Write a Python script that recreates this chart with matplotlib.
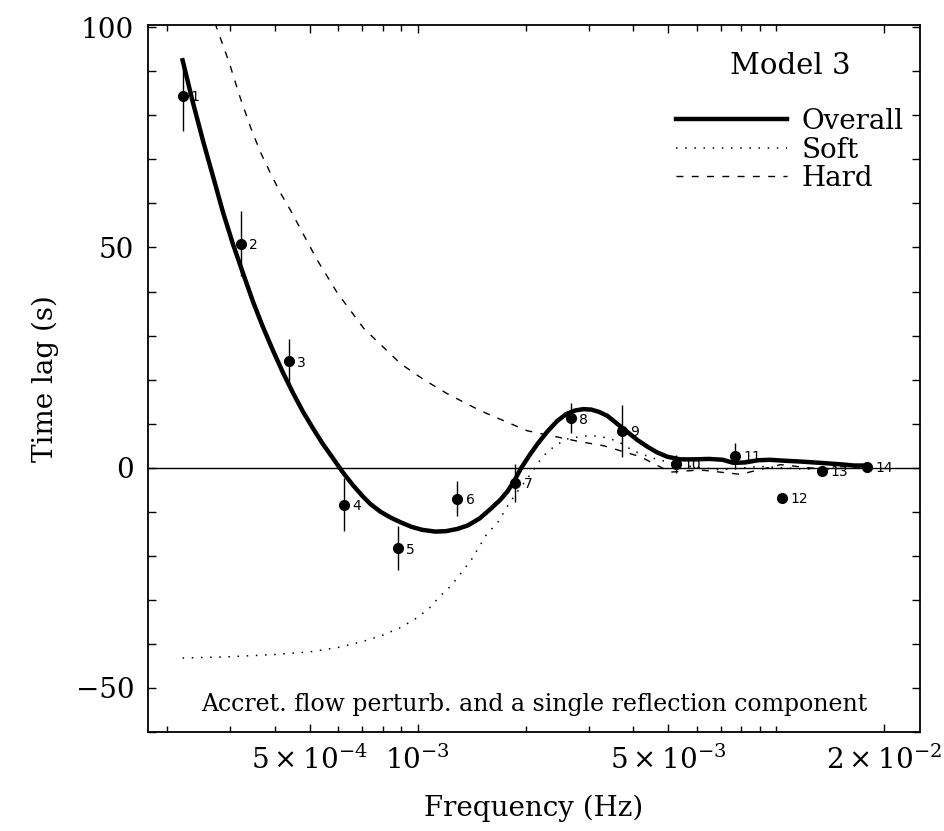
import numpy as np
import matplotlib.pyplot as plt
from matplotlib.ticker import FixedLocator, FixedFormatter, NullFormatter

plt.rcParams['font.family'] = 'DejaVu Serif'
plt.rcParams['mathtext.fontset'] = 'dejavuserif'

# measured lag points (Hz, s)
freq = [2.21e-4, 3.21e-4, 4.37e-4, 6.22e-4, 8.8e-4, 1.29e-3, 1.87e-3,
        2.67e-3, 3.72e-3, 5.24e-3, 7.69e-3, 1.04e-2, 1.34e-2, 1.79e-2]
lag = [84.4, 50.9, 24.2, -8.4, -18.3, -7.0, -3.4,
       11.3, 8.4, 0.9, 2.7, -6.8, -0.7, 0.2]
lag_err = [8.0, 7.3, 5.0, 6.0, 5.0, 4.0, 4.3,
           3.5, 5.9, 2.0, 3.0, 0.0, 0.5, 0.5]
point_ids = [str(i) for i in range(1, 15)]

# model curves
f_all = [2.21e-4, 2.36e-4, 2.52e-4, 2.69e-4, 2.86e-4, 3.05e-4, 3.26e-4, 3.47e-4,
         3.70e-4, 3.95e-4, 4.21e-4, 4.49e-4, 4.79e-4, 5.11e-4, 5.44e-4, 5.80e-4,
         6.18e-4, 6.59e-4, 7.03e-4, 7.4e-4, 7.88e-4, 8.4e-4, 8.97e-4, 9.6e-4,
         1.03e-3, 1.12e-3, 1.20e-3, 1.29e-3, 1.38e-3, 1.49e-3, 1.60e-3, 1.70e-3,
         1.78e-3, 1.86e-3, 1.94e-3, 2.05e-3, 2.16e-3, 2.30e-3, 2.45e-3, 2.60e-3,
         2.75e-3, 2.90e-3, 3.05e-3, 3.20e-3, 3.38e-3, 3.60e-3, 3.85e-3, 4.10e-3,
         4.37e-3, 4.65e-3, 4.97e-3, 5.4e-3, 5.9e-3, 6.5e-3, 7.1e-3, 7.6e-3,
         8.2e-3, 8.9e-3, 9.6e-3, 1.05e-2, 1.17e-2, 1.33e-2, 1.50e-2, 1.65e-2,
         1.79e-2]
v_all = [92.5, 83.0, 74.2, 66.0, 58.2, 50.9, 44.1, 37.8,
         32.0, 26.6, 21.6, 17.0, 12.7, 8.9, 5.4, 2.2,
         -1.0, -3.9, -6.5, -8.3, -10.0, -11.3, -12.4, -13.4,
         -14.1, -14.5, -14.4, -13.9, -13.1, -11.5, -9.3, -7.3,
         -5.4, -3.0, -0.2, 2.8, 5.4, 8.2, 10.6, 12.2,
         13.0, 13.3, 13.2, 12.7, 11.8, 10.0, 8.1, 6.3,
         4.8, 3.5, 2.5, 1.9, 1.9, 2.0, 1.8, 1.1,
         1.2, 1.7, 1.8, 1.6, 1.4, 1.1, 0.8, 0.5,
         0.5]

f_soft = [2.21e-4, 3.0e-4, 4.0e-4, 5.0e-4, 6.0e-4, 7.0e-4, 8.0e-4, 9.0e-4,
          1.0e-3, 1.08e-3, 1.16e-3, 1.24e-3, 1.32e-3, 1.42e-3, 1.55e-3, 1.68e-3,
          1.80e-3, 1.90e-3, 2.05e-3, 2.15e-3, 2.23e-3, 2.40e-3, 2.60e-3, 2.90e-3,
          3.20e-3, 3.60e-3, 4.0e-3, 4.6e-3, 5.5e-3, 7.0e-3, 9.0e-3, 1.2e-2,
          1.79e-2]
v_soft = [-43.2, -42.9, -42.4, -41.8, -40.8, -39.5, -38.0, -36.2,
          -34.0, -31.8, -29.0, -26.8, -24.0, -20.6, -15.4, -12.2,
          -8.1, -5.4, -1.8, 0.6, 2.5, 4.8, 6.5, 7.2,
          7.2, 6.1, 3.8, 2.0, 0.5, -0.5, 0.3, -0.3,
          0.0]

f_hard = [2.72e-4, 2.98e-4, 3.20e-4, 3.43e-4, 3.65e-4, 3.90e-4, 4.15e-4, 4.43e-4,
          4.80e-4, 5.26e-4, 5.98e-4, 7.08e-4, 8.97e-4, 1.04e-3, 1.21e-3, 1.50e-3,
          2.02e-3, 2.84e-3, 3.30e-3, 4.18e-3, 5.07e-3, 6.14e-3, 7.94e-3, 1.03e-2,
          1.33e-2, 1.79e-2]
v_hard = [101.0, 92.0, 84.0, 77.0, 71.5, 66.6, 62.3, 58.3,
          53.0, 47.0, 39.6, 31.6, 23.6, 20.0, 16.8, 12.9,
          8.4, 5.9, 5.0, 2.5, -1.0, -0.5, -1.5, 0.7,
          -0.3, 0.0]

fig = plt.figure(figsize=(9.44, 8.31), dpi=100)
ax = fig.add_axes([0.1568, 0.1191, 0.8178, 0.8508])

ax.axhline(0, color='k', lw=1)
ax.plot(f_all, v_all, color='k', lw=3.2, label='Overall', zorder=4,
        solid_joinstyle='round')
ax.plot(f_soft, v_soft, color='k', lw=1.1, linestyle=(0, (1, 5)), label='Soft')
ax.plot(f_hard, v_hard, color='k', lw=1.0, linestyle=(0, (5, 6)), label='Hard')
ax.errorbar(freq, lag, yerr=lag_err, fmt='o', color='k', ms=7, elinewidth=1,
            capsize=0, zorder=5)
for f, v, s in zip(freq, lag, point_ids):
    ax.annotate(s, (f, v), xytext=(6, -4), textcoords='offset points',
                fontsize=10, family='DejaVu Sans')

ax.set_xscale('log')
ax.set_xlim(1.77e-4, 2.52e-2)
ax.set_ylim(-60, 100.5)

minor = [m * 10.0**e for e in (-4, -3, -2) for m in range(1, 10)]
ax.xaxis.set_major_locator(FixedLocator([5e-4, 1e-3, 5e-3, 2e-2]))
ax.xaxis.set_major_formatter(FixedFormatter([r'$5\times10^{-4}$', r'$10^{-3}$',
                                             r'$5\times10^{-3}$', r'$2\times10^{-2}$']))
ax.xaxis.set_minor_locator(FixedLocator(minor))
ax.xaxis.set_minor_formatter(NullFormatter())
ax.set_yticks([-50, 0, 50, 100])
ax.set_yticklabels(['\u221250', '0', '50', '100'])
ax.set_yticks(np.arange(-60, 101, 10), minor=True)
ax.tick_params(which='both', direction='in', top=True, right=True, width=1)
ax.tick_params(which='major', length=6, labelsize=20, pad=10)
ax.tick_params(axis='x', which='minor', length=4)
ax.tick_params(axis='y', which='minor', length=6)
for sp in ax.spines.values():
    sp.set_linewidth(1.3)

ax.set_xlabel('Frequency (Hz)', fontsize=20, labelpad=14)
ax.set_ylabel('Time lag (s)', fontsize=20, labelpad=12)

leg = ax.legend(title='Model 3', loc='upper right', frameon=False, fontsize=20,
                title_fontsize=21, handlelength=4.0, labelspacing=0.05,
                handletextpad=0.5, borderaxespad=0.0,
                bbox_to_anchor=(0.993, 0.977))
leg._legend_box.sep = 20

ax.text(0.5, 0.022, 'Accret. flow perturb. and a single reflection component',
        transform=ax.transAxes, ha='center', va='bottom', fontsize=17)

plt.savefig('out.png', dpi=100)
